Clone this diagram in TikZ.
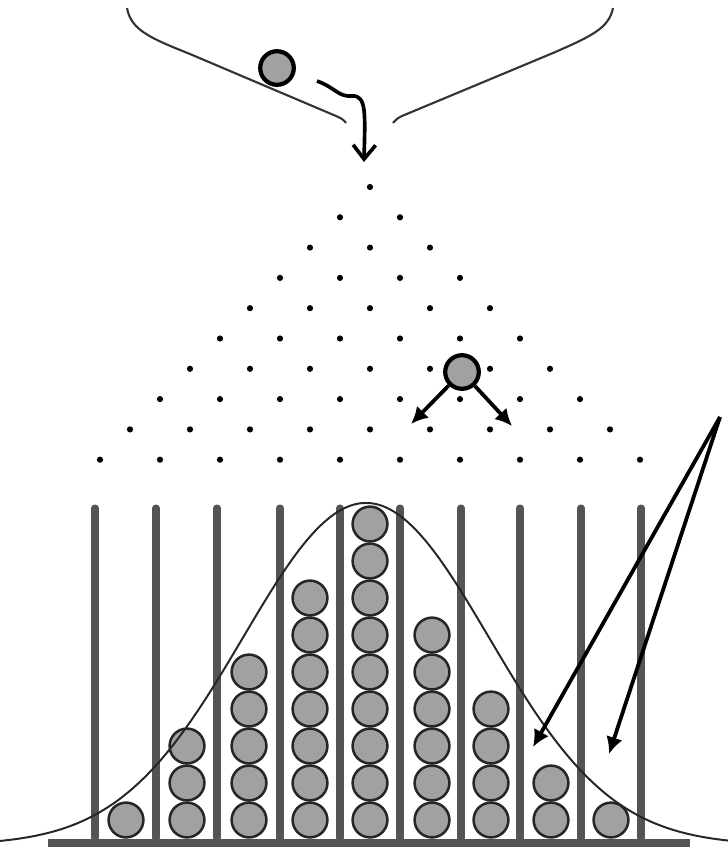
\documentclass[tikz,border=0pt]{standalone}
\usepackage{tikz}
\usetikzlibrary{arrows.meta,positioning}

\begin{document}
\begin{tikzpicture}[
    x=0.025cm,y=-0.025cm,
    ball/.style={circle,draw=black!85,line width=1.8pt,fill=black!37,minimum size=0.87cm,inner sep=0pt},
    bigball/.style={ball,draw=black,line width=3pt,minimum size=0.84cm},
    post/.style={line width=5pt,draw=black!67,line cap=round},
    funnel/.style={line width=1.5pt,draw=black!80},
    bell/.style={line width=1.4pt,draw=black!85},
    move/.style={line width=2.7pt,->},
    >={Latex[length=12pt,width=12pt]}
  ]
    \useasboundingbox (0,0) rectangle (728,850);
    % funnel
    \draw[funnel] (127,8) .. controls (131,30) and (150,38) .. (190,54) -- (336,116) .. controls (341,118) and (344,120) .. (346,123);
    \draw[funnel] (613,8) .. controls (609,28) and (592,36) .. (553,53) -- (402,116) .. controls (398,118) and (395,120) .. (393,123);
    \node[bigball] (fall) at (277,68) {};
    \coordinate (fallstart) at (317,81);
    \coordinate (fallend) at (364,162);
    \draw[line width=2.6pt,-{Straight Barb[length=10pt,width=16pt]}] (fallstart) .. controls (336,88) and (338,97) .. (352,96) .. controls (367,95) and (365,115) .. (fallend);
    % pegs
    \foreach \r in {0,...,9}
      \foreach \k in {0,...,\r}
        \fill ({370-30*\r+60*\k},{187+30.3*\r}) circle[radius=2.2pt];
    % bins
    \foreach \px in {95,156,217,280,340,400,461,520,581,641}
      \draw[post] (\px,508) -- (\px,838);
    \draw[post,line width=5.7pt,line cap=butt] (48,843) -- (690,843);
    \foreach \cx/\n [count=\i] in {126/1,187/3,249/5,310/7,370/9,432/6,491/4,551/2,611/1}
      \foreach \j in {1,...,\n}
        \node[ball] (b\i-\j) at (\cx,{820-37*(\j-1)}) {};
    % normal curve
    \draw[bell] plot[domain=0:728,samples=160,smooth] (\x,{845-342*exp(-0.5*((\x-366)/123)^2)});
    % bouncing ball
    \node[bigball] (bounce) at (462,372) {};
    \coordinate (leftpath) at (411,424);
    \coordinate (rightpath) at (512,426);
    \draw[move] (bounce) -- (leftpath);
    \draw[move] (bounce) -- (rightpath);
    % pointers
    \coordinate (pointer) at (720,417);
    \coordinate (tailgap) at (533,747);
    \coordinate (emptybin) at (609,754);
    \draw[move] (pointer) -- (tailgap);
    \draw[move] (pointer) -- (emptybin);
  \end{tikzpicture}
\end{document}
